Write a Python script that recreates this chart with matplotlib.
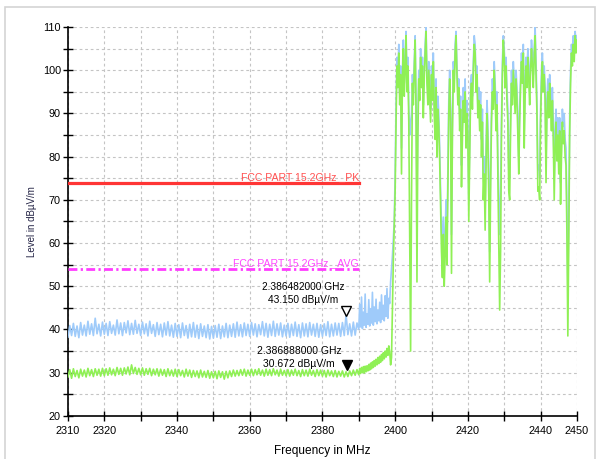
import numpy as np
import matplotlib
matplotlib.use("Agg")
import matplotlib.pyplot as plt
from matplotlib.patches import Rectangle
from matplotlib.transforms import offset_copy

plt.rcParams['font.family'] = ['Liberation Sans', 'DejaVu Sans']

# --- trace data (dBuV/m) ---
# flat part 2310 .. 2389.5 MHz, 0.5 MHz steps
peak_flat = [
    38.2, 40.9, 38.6, 41.4, 38.4, 40.8, 38.1, 41.6, 38.7, 41.0, 38.5, 41.9, 38.9, 41.3, 38.6, 42.6, 39.0, 41.2, 38.5, 41.7,
    38.9, 41.4, 38.6, 41.8, 39.1, 41.0, 38.7, 42.2, 39.0, 41.5, 38.6, 41.6, 39.2, 42.0, 38.8, 41.4, 38.9, 42.1, 39.1, 41.2,
    38.6, 41.7, 39.0, 41.3, 38.5, 41.9, 39.1, 41.1, 38.4, 41.6, 38.8, 41.2, 38.3, 41.5, 38.7, 41.8, 38.5, 41.0, 38.2, 41.4,
    38.4, 41.1, 38.1, 41.5, 38.6, 40.9, 38.0, 41.2, 38.3, 41.6, 38.2, 41.0, 37.9, 41.3, 38.4, 40.8, 38.1, 41.1, 37.8, 40.7,
    38.0, 40.9, 38.2, 41.2, 37.9, 40.8, 38.3, 41.4, 38.1, 41.0, 38.4, 41.3, 38.2, 41.7, 38.5, 41.1, 38.3, 41.5, 38.6, 41.2,
    38.4, 41.6, 38.7, 41.3, 38.3, 41.1, 38.8, 41.8, 38.5, 41.4, 38.2, 41.2, 38.6, 41.9, 38.4, 41.3, 38.7, 41.5, 38.3, 41.0,
    38.5, 41.4, 38.2, 41.2, 38.6, 41.7, 38.4, 41.1, 38.1, 41.5, 38.5, 41.3, 38.3, 41.6, 38.7, 41.2, 38.4, 41.4, 38.2, 41.1,
    38.4, 41.3, 38.6, 41.8, 38.3, 41.2, 38.5, 41.5, 38.7, 41.4, 38.4, 41.6, 38.6, 43.4, 38.8, 41.3, 38.5, 41.7, 38.7, 41.5,
]
avg_flat = [
    29.0, 30.7, 28.7, 30.9, 29.1, 30.5, 28.8, 30.8, 29.2, 30.6, 29.0, 31.0, 29.3, 30.7, 29.1, 30.9, 29.4, 30.8, 29.2, 31.0,
    29.3, 30.9, 29.4, 31.1, 29.5, 30.8, 29.3, 31.2, 29.6, 31.0, 29.4, 31.1, 29.7, 31.3, 29.5, 31.8, 29.8, 31.2, 29.6, 31.0,
    29.5, 31.1, 29.4, 30.9, 29.6, 31.0, 29.3, 30.8, 29.5, 30.9, 29.2, 30.8, 29.4, 30.7, 29.1, 30.9, 29.3, 30.6, 29.2, 30.8,
    29.1, 30.7, 29.3, 30.5, 29.0, 30.8, 29.2, 30.6, 28.9, 30.5, 29.1, 30.4, 28.8, 30.6, 29.0, 30.3, 28.9, 30.5, 28.7, 30.2,
    28.8, 30.3, 28.6, 30.4, 28.9, 30.2, 28.5, 30.3, 28.8, 30.4, 29.1, 30.6, 29.2, 30.5, 29.3, 30.7, 29.4, 30.8, 29.2, 30.6,
    29.4, 30.8, 29.3, 30.7, 29.5, 30.9, 29.4, 30.6, 29.2, 30.8, 29.4, 30.7, 29.3, 30.9, 29.5, 30.6, 29.2, 30.8, 29.4, 30.5,
    29.3, 30.7, 29.2, 30.6, 29.4, 30.8, 29.3, 30.5, 29.1, 30.7, 29.3, 30.6, 29.2, 30.8, 29.4, 30.5, 29.1, 30.7, 29.3, 30.6,
    29.2, 30.5, 29.0, 30.6, 29.3, 30.4, 29.1, 30.5, 29.0, 30.3, 29.2, 30.4, 29.0, 30.2, 29.1, 30.4, 29.3, 30.6, 29.4, 30.7,
]
# band edge 2390 .. 2399.75 MHz, 0.25 MHz steps
peak_edge = [
    40.0, 45.8, 40.6, 47.5, 40.2, 44.0, 41.0, 48.2, 40.5, 43.6,
    41.2, 46.9, 40.8, 44.8, 41.5, 48.6, 41.0, 45.2, 41.8, 47.0,
    41.3, 44.5, 42.0, 46.3, 41.6, 48.0, 42.4, 45.6, 42.0, 47.8,
    43.0, 49.5, 42.6, 47.2, 46.0, 51.0, 54.0, 57.0, 61.0, 65.0,
]
avg_edge = [
    29.5, 31.0, 29.8, 31.2, 30.0, 31.4, 29.9, 31.5, 30.2, 31.6,
    30.4, 31.9, 30.6, 32.2, 30.9, 32.5, 31.2, 32.8, 31.5, 33.1,
    31.8, 33.5, 32.1, 33.8, 32.4, 34.2, 32.8, 34.6, 33.2, 35.0,
    33.6, 35.6, 34.0, 36.2, 34.8, 31.8, 33.5, 45.0, 56.0, 64.0,
]
# in-band 2400 .. 2450 MHz, 0.25 MHz steps
peak_band = [
    76, 92, 103, 99, 106, 95, 101, 82,
    100, 107, 97, 102, 109, 98, 103, 92,
    85, 88, 90, 99, 95, 102, 108, 93,
    70, 89, 100, 96, 105, 98, 103, 92,
    100, 106, 110, 99, 95, 102, 97, 91,
    101, 96, 104, 93, 88, 98, 85, 94,
    90, 82, 72, 64, 56, 66, 55, 62,
    70, 60, 76, 93, 100, 91, 62, 88,
    102, 98, 106, 109, 101, 95, 98, 90,
    94, 78, 88, 96, 91, 98, 86, 93,
    88, 70, 84, 97, 99, 94, 102, 108,
    106, 98, 101, 92, 96, 90, 95, 84,
    91, 75, 80, 68, 82, 93, 88, 76,
    58, 77, 91, 98, 94, 102, 97, 90,
    95, 80, 70, 62, 72, 89, 102, 108,
    105, 99, 103, 96, 91, 77, 75, 90,
    100, 95, 102, 98, 93, 100, 96, 89,
    80, 91, 99, 104, 100, 106, 86, 97,
    103, 99, 105, 101, 95, 102, 107, 104,
    99, 105, 110, 102, 93, 77, 78, 75,
    91, 100, 104, 98, 101, 96, 78, 93,
    98, 92, 99, 94, 90, 96, 88, 75,
    86, 91, 83, 89, 80, 89, 74, 84,
    91, 87, 90, 84, 82, 68, 50, 66,
    89, 100, 106, 103, 108, 104, 109, 106,
    108,
]
avg_band = [
    72, 88, 101, 96, 104, 92, 99, 76,
    98, 105, 94, 100, 108, 95, 101, 88,
    60, 35, 70, 97, 92, 100, 107, 90,
    51, 85, 98, 93, 103, 96, 101, 89,
    98, 104, 109, 97, 92, 100, 94, 88,
    99, 93, 102, 90, 84, 96, 80, 91,
    87, 79, 68, 58, 52, 62, 50, 57,
    66, 55, 72, 90, 98, 88, 53, 85,
    100, 95, 104, 108, 99, 92, 96, 86,
    91, 73, 84, 93, 88, 95, 82, 90,
    85, 65, 80, 94, 97, 91, 100, 106,
    104, 95, 99, 89, 93, 86, 92, 80,
    88, 70, 76, 63, 78, 90, 84, 71,
    51, 72, 88, 95, 91, 100, 94, 86,
    92, 75, 60, 44.5, 58, 85, 99, 107,
    103, 96, 101, 93, 88, 72, 70, 86,
    97, 92, 100, 95, 90, 98, 93, 85,
    76, 88, 96, 102, 97, 104, 82, 94,
    101, 96, 103, 98, 92, 100, 105, 101,
    96, 103, 108, 99, 90, 72, 73, 70,
    88, 97, 102, 95, 99, 93, 74, 90,
    95, 89, 97, 91, 86, 93, 84, 70,
    82, 88, 79, 85, 76, 86, 69, 80,
    88, 83, 86, 80, 78, 62, 38.5, 60,
    85, 97, 104, 101, 106, 102, 108, 104,
    107,
]

limit_pk = 74
limit_avg = 54
limit_end = 2390
marker_pk = (2386.482, 43.150)
marker_avg = (2386.888, 30.672)
xtick_vals = list(range(2310, 2451, 10))
xtick_labels = ['2310', '2320', '', '2340', '', '2360', '', '2380', '', '2400', '', '2420', '', '2440', '2450']


def freqs(start, step, n):
    return start + step * np.arange(n)


f_pk = np.concatenate([freqs(2310, 0.5, len(peak_flat)), freqs(2390, 0.25, len(peak_edge)),
                       freqs(2400, 0.25, len(peak_band))])
y_pk = np.array(peak_flat + peak_edge + peak_band)
f_av = np.concatenate([freqs(2310, 0.5, len(avg_flat)), freqs(2390, 0.25, len(avg_edge)),
                       freqs(2400, 0.25, len(avg_band))])
y_av = np.array(avg_flat + avg_edge + avg_band)

fig = plt.figure(figsize=(5.96, 4.59), dpi=100)
ax = fig.add_axes([0.114, 0.094, 0.854, 0.847])

# outer frame of the screenshot
fig.patches.append(Rectangle((0.0085, -0.05), 0.99, 1.035, transform=fig.transFigure,
                             fill=False, edgecolor='#d4d4d4', linewidth=1.2))

ax.plot(f_pk, y_pk, color='#9fcbfa', lw=1.2, zorder=3)
ax.plot(f_av, y_av, color='#8ff055', lw=1.2, zorder=4)

ax.plot([2310, limit_end], [limit_pk, limit_pk], color='#ff3535', lw=2.3, zorder=5)
ax.plot([2310, limit_end], [limit_avg, limit_avg], color='#ff3cff', lw=2.0,
        dashes=(3.2, 1.2, 0.8, 1.2), zorder=5)
ax.text(limit_end, limit_pk + 0.2, 'FCC PART 15.2GHz _PK', color='#ff5050',
        fontsize=7.6, ha='right', va='bottom', zorder=6)
ax.text(limit_end, limit_avg + 0.2, 'FCC PART 15.2GHz _AVG', color='#ff48ff',
        fontsize=7.6, ha='right', va='bottom', zorder=6)

# marker triangles with their tip on the trace point
tip = offset_copy(ax.transData, fig=fig, x=0, y=3.5, units='points')
ax.plot(*marker_pk, marker='v', ms=7, mfc='white', mec='black', mew=1.0, transform=tip, zorder=7)
ax.plot(*marker_avg, marker='v', ms=7, mfc='black', mec='black', transform=tip, zorder=7)
ax.text(2374.6, 48.3, '2.386482000 GHz\n%.3f dBµV/m' % marker_pk[1], fontsize=7.3,
        ha='center', va='center', multialignment='center', linespacing=1.35, zorder=7)
ax.text(2373.6, 33.6, '2.386888000 GHz\n%.3f dBµV/m' % marker_avg[1], fontsize=7.5,
        ha='center', va='center', multialignment='center', linespacing=1.35, zorder=7)

ax.set_xlim(2310, 2450)
ax.set_ylim(20, 110)
ax.set_xticks(xtick_vals)
ax.set_xticklabels(xtick_labels)
ax.set_yticks(range(20, 111, 10))
ax.set_yticks(range(25, 110, 10), minor=True)
ax.tick_params(axis='both', which='both', direction='inout', length=7, width=1.0,
               labelsize=7.8, colors='black', pad=4)
ax.tick_params(axis='y', pad=1.5)
ax.grid(True, which='both', color='#c4c4c4', linestyle=(0, (2.5, 2.5)), linewidth=0.8)
ax.set_axisbelow(True)
for side in ('top', 'right'):
    ax.spines[side].set_visible(False)
for side in ('left', 'bottom'):
    ax.spines[side].set_linewidth(1.2)

ax.set_xlabel('Frequency in MHz', fontsize=8.6, labelpad=6)
ax.set_ylabel('Level in dBµV/m', fontsize=7, labelpad=4, color='#222244')

fig.savefig('out.png', dpi=100)
